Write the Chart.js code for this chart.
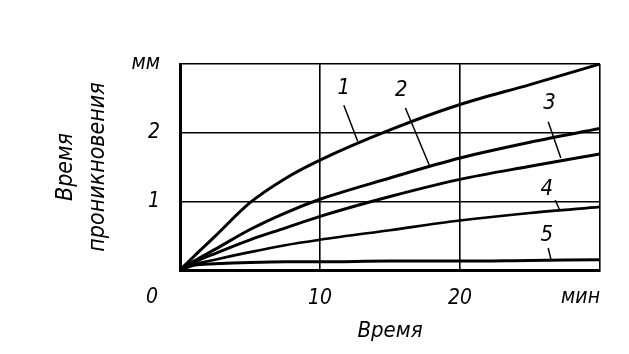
<!DOCTYPE html>
<html>
<head>
<meta charset="utf-8">
<script src="https://cdn.jsdelivr.net/npm/chart.js@4/dist/chart.umd.min.js"></script>
<style>
  body { margin: 0; background: #fff; }
</style>
</head>
<body>
<canvas id="myChart" width="629" height="354"></canvas>
<script>
// время, мин
const times = [0, 1, 2.5, 5, 7.5, 10, 15, 20, 25, 30];
// глубина проникновения, мм (кривые 1-5)
const curve1 = [0, 0.20, 0.49, 0.98, 1.33, 1.60, 2.04, 2.41, 2.70, 3.00];
const curve2 = [0, 0.13, 0.30, 0.59, 0.83, 1.03, 1.34, 1.63, 1.86, 2.06];
const curve3 = [0, 0.11, 0.24, 0.44, 0.61, 0.78, 1.07, 1.32, 1.51, 1.69];
const curve4 = [0, 0.08, 0.15, 0.26, 0.36, 0.44, 0.58, 0.72, 0.83, 0.92];
const curve5 = [0, 0.07, 0.09, 0.11, 0.12, 0.12, 0.13, 0.13, 0.14, 0.15];

const xTicks = [0, 10, 20, 30];
const yTicks = [0, 1, 2, 3];
const xUnit = 'мин';
const yUnit = 'мм';

// номера кривых и выноски (в единицах осей)
const curveNames = ['1', '2', '3', '4', '5'];
const nameAt = [[11.7, 2.65], [15.8, 2.62], [26.4, 2.43], [26.2, 1.17], [26.2, 0.51]];
const leaderFrom = [[11.7, 2.40], [16.1, 2.36], [26.3, 2.16], [26.8, 1.02], [26.3, 0.32]];
const leaderTo = [[12.7, 1.87], [17.8, 1.53], [27.2, 1.63], [27.1, 0.88], [26.5, 0.15]];

const FONT = "'Liberation Sans Narrow', 'DejaVu Sans Condensed', 'DejaVu Sans', sans-serif";

function toPoints(ys) {
    return times.map((t, i) => ({ x: t, y: ys[i] }));
}

function lineSet(label, ys, width) {
    return {
        label: label,
        data: toPoints(ys),
        borderColor: '#000',
        borderWidth: width,
        pointRadius: 0,
        fill: false,
        cubicInterpolationMode: 'monotone'
    };
}

// подписи кривых, "0" в углу и "мин" у конца оси
const annotations = {
    id: 'annotations',
    afterDraw(chart) {
        const ctx = chart.ctx;
        const xs = chart.scales.x;
        const ys = chart.scales.y;
        ctx.save();
        ctx.fillStyle = '#000';
        ctx.strokeStyle = '#000';
        ctx.lineWidth = 1.5;
        ctx.font = 'italic 22px ' + FONT;
        ctx.textAlign = 'center';
        ctx.textBaseline = 'middle';
        curveNames.forEach((name, i) => {
            ctx.fillText(name, xs.getPixelForValue(nameAt[i][0]), ys.getPixelForValue(nameAt[i][1]));
            ctx.beginPath();
            ctx.moveTo(xs.getPixelForValue(leaderFrom[i][0]), ys.getPixelForValue(leaderFrom[i][1]));
            ctx.lineTo(xs.getPixelForValue(leaderTo[i][0]), ys.getPixelForValue(leaderTo[i][1]));
            ctx.stroke();
        });

        ctx.font = 'italic 21px ' + FONT;
        const labelY = ys.bottom + 28;
        ctx.fillText('0', xs.getPixelForValue(0) - 28, labelY);
        ctx.textAlign = 'right';
        ctx.fillText(xUnit, xs.getPixelForValue(30), labelY);
        ctx.restore();
    }
};

const ctx = document.getElementById('myChart').getContext('2d');
const myChart = new Chart(ctx, {
    type: 'line',
    data: {
        datasets: [
            lineSet('1', curve1, 3),
            lineSet('2', curve2, 3),
            lineSet('3', curve3, 3),
            lineSet('4', curve4, 2.6),
            lineSet('5', curve5, 3)
        ]
    },
    options: {
        responsive: false,
        animation: false,
        devicePixelRatio: 1,
        layout: { padding: { left: 50, right: 29, top: 64, bottom: 10 } },
        plugins: {
            legend: { display: false },
            tooltip: { enabled: false }
        },
        scales: {
            x: {
                type: 'linear',
                min: 0,
                max: 30,
                afterBuildTicks: (s) => { s.ticks = xTicks.map(v => ({ value: v })); },
                afterFit: (s) => { s.height = 74; },
                grid: { color: '#000', lineWidth: 1.6, drawTicks: false },
                border: { color: '#000', width: 3 },
                ticks: {
                    color: '#000',
                    padding: 16,
                    maxRotation: 0,
                    font: { family: FONT, size: 21, style: 'italic' },
                    callback: (v) => (v === 0 || v === 30) ? '' : String(v)
                },
                title: {
                    display: true,
                    text: 'Время',
                    color: '#000',
                    padding: { top: 2, bottom: 0 },
                    font: { family: FONT, size: 22, style: 'italic' }
                }
            },
            y: {
                min: 0,
                max: 3,
                afterBuildTicks: (s) => { s.ticks = yTicks.map(v => ({ value: v })); },
                afterFit: (s) => { s.width = 130; },
                grid: { color: '#000', lineWidth: 1.6, drawTicks: false },
                border: { color: '#000', width: 3 },
                ticks: {
                    color: '#000',
                    padding: 20,
                    font: { family: FONT, size: 21, style: 'italic' },
                    callback: (v) => v === 0 ? '' : (v === 3 ? yUnit : String(v))
                },
                title: {
                    display: true,
                    text: ['Время', 'проникновения'],
                    color: '#000',
                    padding: { top: 0, bottom: 0 },
                    font: { family: FONT, size: 23, style: 'italic', lineHeight: 1.4 }
                }
            }
        }
    },
    plugins: [annotations]
});
</script>
</body>
</html>
